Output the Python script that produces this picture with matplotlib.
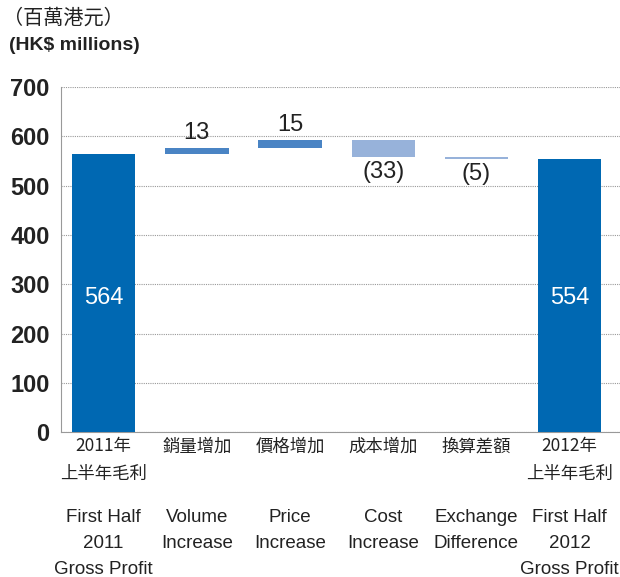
import numpy as np
import matplotlib.pyplot as plt
import matplotlib.transforms as mtransforms

plt.rcParams['font.family'] = ['Liberation Sans', 'Noto Sans CJK TC', 'DejaVu Sans']

# chart data
labels_zh = ["2011年\n上半年毛利", "銷量增加", "價格增加", "成本增加", "換算差額", "2012年\n上半年毛利"]
labels_en = ["First Half\n2011\nGross Profit", "Volume\nIncrease", "Price\nIncrease",
             "Cost\nIncrease", "Exchange\nDifference", "First Half\n2012\nGross Profit"]
start_total = 564
changes = [13, 15, -33, -5]
end_total = 554
value_labels = ["564", "13", "15", "(33)", "(5)", "554"]

C_TOTAL = "#0068b2"
C_UP = "#4a84c4"
C_DOWN = "#97b2da"

fig = plt.figure(figsize=(6.2, 5.77), dpi=100)
ax = fig.add_axes([0.098, 0.251, 0.902, 0.598])

x = np.arange(6)
w = 0.68

# running totals for floating bars
bottoms, heights, colors = [0], [start_total], [C_TOTAL]
level = start_total
for c in changes:
    if c >= 0:
        bottoms.append(level)
        heights.append(c)
        colors.append(C_UP)
    else:
        bottoms.append(level + c)
        heights.append(-c)
        colors.append(C_DOWN)
    level += c
bottoms.append(0)
heights.append(end_total)
colors.append(C_TOTAL)

ax.bar(x, heights, w, bottom=bottoms, color=colors, zorder=3)

for i in range(6):
    if i in (0, 5):
        ax.text(x[i], 272, value_labels[i], ha="center", va="center", color="white",
                fontsize=17)
    elif changes[i - 1] >= 0:
        ax.text(x[i], bottoms[i] + heights[i] + 8, value_labels[i], ha="center", va="bottom",
                color="#222222", fontsize=17)
    else:
        ax.text(x[i], bottoms[i] - 8, value_labels[i], ha="center", va="top",
                color="#222222", fontsize=17)

ax.set_xlim(-0.46, 5.54)
ax.set_ylim(0, 700)
ax.set_yticks(np.arange(0, 701, 100))
ax.yaxis.grid(True, linestyle=(0, (1, 1)), color="#999999", linewidth=0.8, zorder=0)
ax.tick_params(axis="y", length=0, labelsize=17, pad=8, labelcolor="#222222")
ax.tick_params(axis="x", length=0, labelbottom=False)
for lbl in ax.get_yticklabels():
    lbl.set_fontweight("bold")
for s in ("top", "right"):
    ax.spines[s].set_visible(False)
ax.spines["left"].set_color("#999999")
ax.spines["bottom"].set_color("#999999")

trans = mtransforms.blended_transform_factory(ax.transData, fig.transFigure)
for i in range(6):
    ax.text(x[i], 1 - 434 / 577 - 0.006, labels_zh[i], transform=trans, ha="center", va="top",
            fontsize=12.5, family=['Noto Sans CJK TC'], color="#222222", linespacing=1.65)
    ax.text(x[i], 1 - 509 / 577, labels_en[i], transform=trans, ha="center", va="top",
            fontsize=13.5, color="#222222", linespacing=1.68)

fig.text(0.005, 1 - 18 / 577, "（百萬港元）", ha="left", va="center", fontsize=14.5,
         family=['Noto Sans CJK TC'], color="#222222")
fig.text(0.014, 1 - 45 / 577, "(HK$ millions)", ha="left", va="center", fontsize=14,
         fontweight="bold", color="#222222")

fig.savefig("out.png", dpi=100)
